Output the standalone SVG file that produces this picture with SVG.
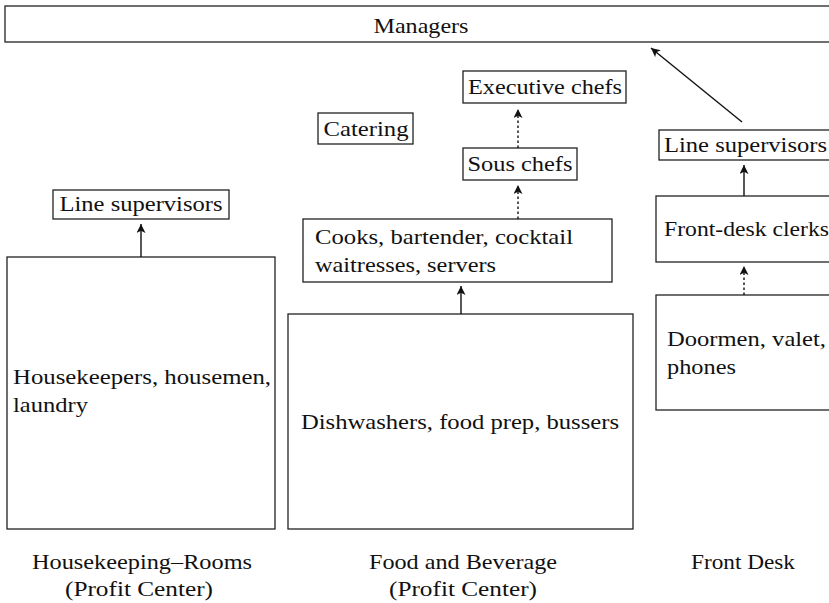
<svg xmlns="http://www.w3.org/2000/svg" width="829" height="603" viewBox="0 0 829 603">
<defs>
<style>
.box{fill:#fff;stroke:#222;stroke-width:1.3}
.t{font-family:"Liberation Serif","Times New Roman",serif;font-size:21px;fill:#111}
.m{text-anchor:middle}
.ln{stroke:#111;stroke-width:1.4;fill:none}
.dot{stroke:#111;stroke-width:1.4;stroke-dasharray:2.5 2.5;fill:none}
</style>
<marker id="ah" viewBox="0 0 10 10" refX="10" refY="5" markerWidth="10" markerHeight="9" markerUnits="userSpaceOnUse" orient="auto">
<path d="M0,0 L10,5 L0,10 L2.5,5 z" fill="#111"/>
</marker>
</defs>
<rect width="829" height="603" fill="#fff"/>
<g id="managers"><rect class="box" x="5" y="6" width="830" height="36"/><text class="t m" x="421" y="33" textLength="95" lengthAdjust="spacingAndGlyphs">Managers</text></g>
<g id="exec-chefs"><rect class="box" x="463" y="71" width="163" height="32"/><text class="t m" x="545" y="94" textLength="154" lengthAdjust="spacingAndGlyphs">Executive chefs</text></g>
<g id="catering"><rect class="box" x="318" y="113" width="95" height="31"/><text class="t m" x="366" y="136" textLength="85" lengthAdjust="spacingAndGlyphs">Catering</text></g>
<g id="sous-chefs"><rect class="box" x="463" y="148" width="114" height="32"/><text class="t m" x="520" y="171" textLength="105" lengthAdjust="spacingAndGlyphs">Sous chefs</text></g>
<g id="cooks"><rect class="box" x="303" y="219" width="309" height="63"/><text class="t" x="315" y="244" textLength="258" lengthAdjust="spacingAndGlyphs">Cooks, bartender, cocktail</text><text class="t" x="315" y="272" textLength="181" lengthAdjust="spacingAndGlyphs">waitresses, servers</text></g>
<g id="dishwashers"><rect class="box" x="288" y="314" width="345" height="215"/><text class="t m" x="460" y="429" textLength="318" lengthAdjust="spacingAndGlyphs">Dishwashers, food prep, bussers</text></g>
<g id="hk-supervisors"><rect class="box" x="53" y="190" width="176" height="29"/><text class="t m" x="141" y="211" textLength="163" lengthAdjust="spacingAndGlyphs">Line supervisors</text></g>
<g id="housekeepers"><rect class="box" x="7" y="257" width="268" height="272"/><text class="t" x="13" y="384" textLength="258" lengthAdjust="spacingAndGlyphs">Housekeepers, housemen,</text><text class="t" x="13" y="412" textLength="75" lengthAdjust="spacingAndGlyphs">laundry</text></g>
<g id="fd-supervisors"><rect class="box" x="659" y="130" width="180" height="30"/><text class="t" x="664" y="152" textLength="163" lengthAdjust="spacingAndGlyphs">Line supervisors</text></g>
<g id="fd-clerks"><rect class="box" x="656" y="196" width="180" height="66"/><text class="t" x="664" y="236" textLength="165" lengthAdjust="spacingAndGlyphs">Front-desk clerks</text></g>
<g id="doormen"><rect class="box" x="656" y="295" width="180" height="115"/><text class="t" x="667" y="346" textLength="159" lengthAdjust="spacingAndGlyphs">Doormen, valet,</text><text class="t" x="667" y="374" textLength="69" lengthAdjust="spacingAndGlyphs">phones</text></g>
<g id="labels">
<text class="t m" x="142" y="569" textLength="220" lengthAdjust="spacingAndGlyphs">Housekeeping–Rooms</text>
<text class="t m" x="139" y="596" textLength="148" lengthAdjust="spacingAndGlyphs">(Profit Center)</text>
<text class="t m" x="463" y="569" textLength="188" lengthAdjust="spacingAndGlyphs">Food and Beverage</text>
<text class="t m" x="463" y="596" textLength="148" lengthAdjust="spacingAndGlyphs">(Profit Center)</text>
<text class="t m" x="743" y="569" textLength="104" lengthAdjust="spacingAndGlyphs">Front Desk</text>
</g>
<g id="connectors">
<line class="ln" x1="742" y1="122" x2="651" y2="48" marker-end="url(#ah)"/>
<line class="dot" x1="518" y1="148" x2="518" y2="109" marker-end="url(#ah)"/>
<line class="dot" x1="518" y1="219" x2="518" y2="185" marker-end="url(#ah)"/>
<line class="ln" x1="461" y1="314" x2="461" y2="286" marker-end="url(#ah)"/>
<line class="ln" x1="141" y1="257" x2="141" y2="224" marker-end="url(#ah)"/>
<line class="ln" x1="744" y1="196" x2="744" y2="165" marker-end="url(#ah)"/>
<line class="dot" x1="744" y1="295" x2="744" y2="266" marker-end="url(#ah)"/>
</g>
</svg>
